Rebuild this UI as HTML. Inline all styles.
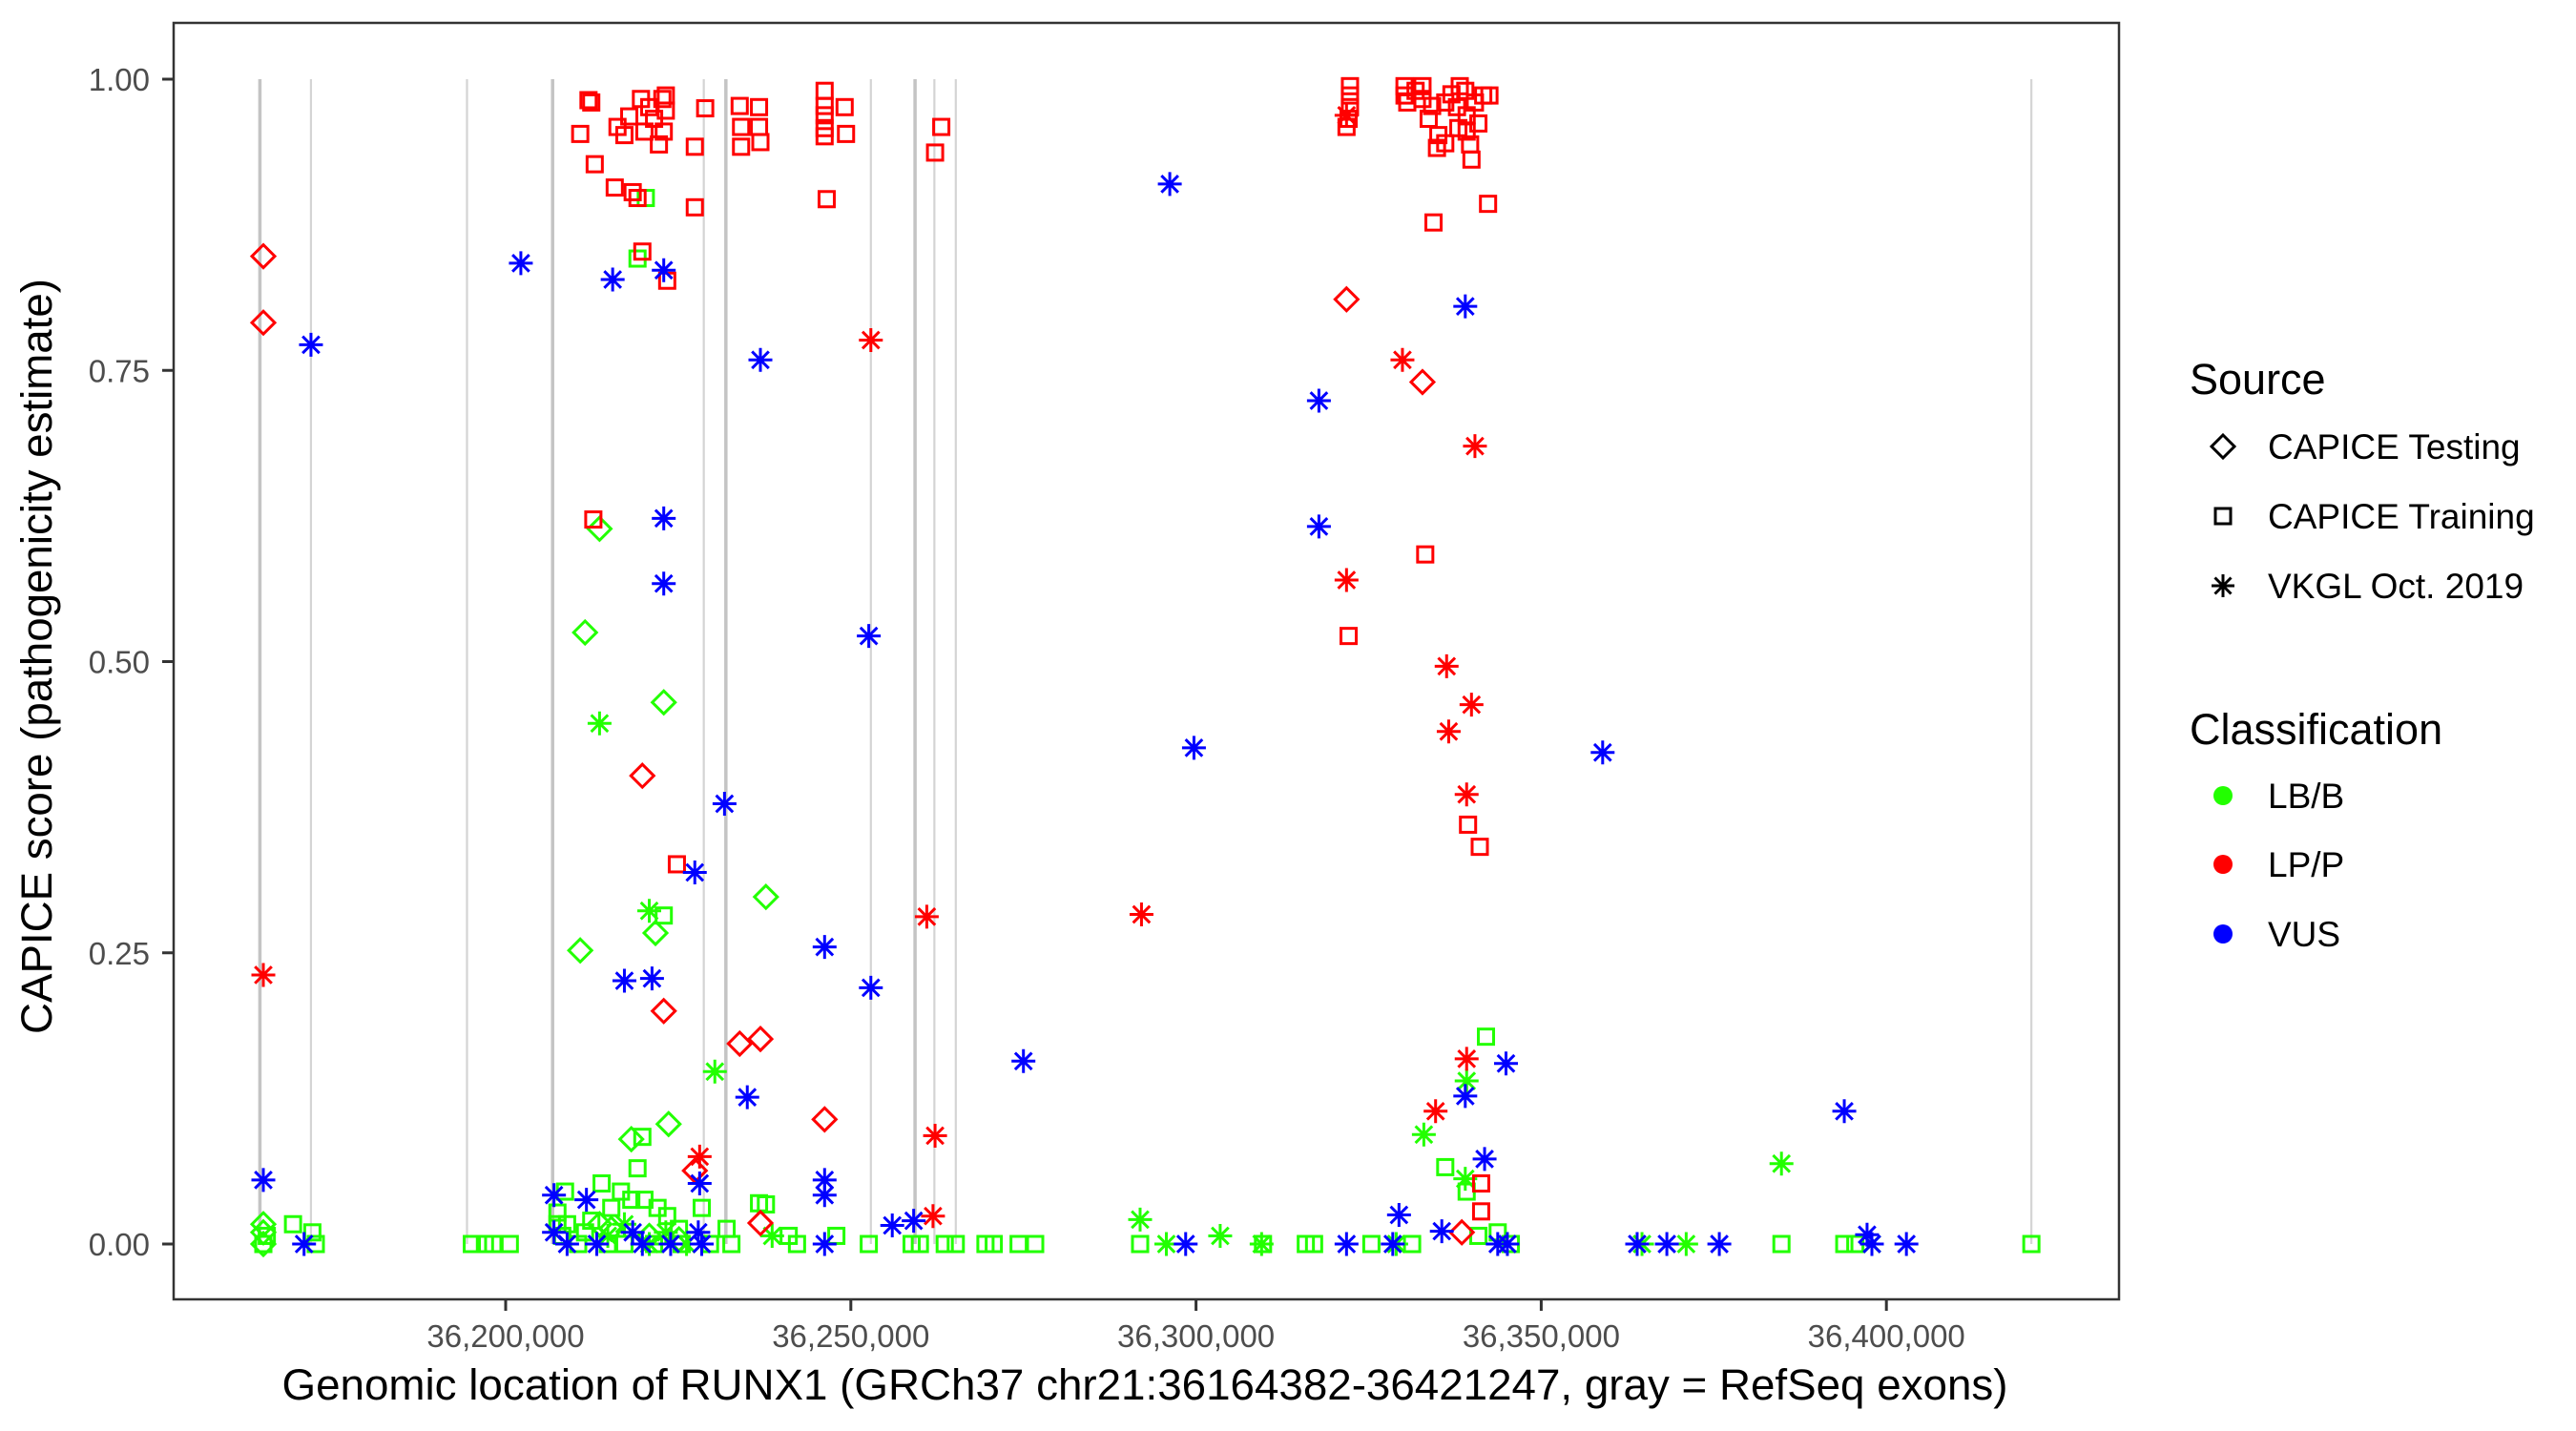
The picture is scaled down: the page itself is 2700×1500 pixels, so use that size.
<!DOCTYPE html>
<html><head><meta charset="utf-8"><title>RUNX1 CAPICE scores</title>
<style>html,body{margin:0;padding:0;background:#fff}svg{display:block}</style></head>
<body>
<svg id="chart" xmlns="http://www.w3.org/2000/svg" width="2700" height="1500" viewBox="0 0 2700 1500" font-family="'Liberation Sans', Arial, sans-serif">
<rect x="0" y="0" width="2700" height="1500" fill="#fff"/>
<g id="exons"></g>
<g id="ticks"></g>
<g id="points"></g>
<rect x="182" y="24" width="2039" height="1338" fill="none" stroke="#333" stroke-width="2.5"/>
<text x="0" y="0" transform="translate(54,688) rotate(-90)" text-anchor="middle" font-size="45" textLength="792" lengthAdjust="spacingAndGlyphs" fill="#000">CAPICE score (pathogenicity estimate)</text>
<text x="1200" y="1467" text-anchor="middle" font-size="45" textLength="1809" lengthAdjust="spacingAndGlyphs" fill="#000">Genomic location of RUNX1 (GRCh37 chr21:36164382-36421247, gray = RefSeq exons)</text>
<g>
<text x="2295" y="413" font-size="45" fill="#000">Source</text>
<g>
<polygon points="2330,456 2342,468 2330,480 2318,468" fill="none" stroke="#000" stroke-width="3"/>
<text x="2377" y="481" font-size="37" fill="#000">CAPICE Testing</text></g>
<g>
<rect x="2322" y="533" width="16" height="16" fill="none" stroke="#000" stroke-width="3"/>
<text x="2377" y="554" font-size="37" fill="#000">CAPICE Training</text></g>
<g>
<path d="M2318,614h24M2330,602v24M2321.5,605.5l17,17M2321.5,622.5l17,-17" stroke="#000" stroke-width="3"/>
<text x="2377" y="627" font-size="37" fill="#000">VKGL Oct. 2019</text></g>
<text x="2295" y="780" font-size="45" fill="#000">Classification</text>
<g><circle cx="2330" cy="834" r="10" fill="#22ff00"/><text x="2377" y="847" font-size="37" fill="#000">LB/B</text></g>
<g><circle cx="2330" cy="906" r="10" fill="#ff0000"/><text x="2377" y="919" font-size="37" fill="#000">LP/P</text></g>
<g><circle cx="2330" cy="979" r="10" fill="#0000ff"/><text x="2377" y="992" font-size="37" fill="#000">VUS</text></g>
</g>
</svg>
<script>
// positions in kb (GRCh37 chr21), scores 0..1
const exonPosKb = [36164.4, 36171.8, 36194.4, 36206.8, 36228.7, 36231.9, 36252.9, 36259.3, 36262.1, 36265.2, 36421.0];
const exonThick = [1,0,0,1,0,1,0,1,0,0,0];
const xTicksKb = [36200, 36250, 36300, 36350, 36400];
const xTickLabels = ["36,200,000","36,250,000","36,300,000","36,350,000","36,400,000"];
const yTicks = [0, 0.25, 0.5, 0.75, 1];
const yTickLabels = ["0.00","0.25","0.50","0.75","1.00"];

// LB/B
const lbbTestPos = [36213.6,36211.5,36222.9,36237.7,36210.8,36221.7,36223.6,36218.2,36164.9,36164.9,36164.9,36215.3,36220.8,36213.6,36225.1];
const lbbTestScore = [.614,.525,.465,.298,.252,.267,.103,.090,.017,.010,0,.013,.007,.017,.004];
const lbbTrainPos = [36220.3,36219.1,36222.9,36219.8,36219.1,36213.9,36169.2,36172.0,36172.5,36164.9,36165.4,36195.1,36197.0,36198.2,36200.6,36207.5,36207.5,36208.2,36208.9,36210.5,36211.5,36215.3,36216.7,36218.2,36220.1,36222.0,36223.4,36225.1,36228.4,36232.0,36236.7,36237.7,36214.8,36217.2,36221.5,36225.5,36229.6,36232.7,36241.0,36242.2,36247.9,36252.6,36258.8,36260.0,36263.6,36265.2,36269.5,36270.7,36274.3,36276.7,36291.9,36309.7,36315.9,36317.1,36325.4,36331.3,36336.1,36339.2,36342.0,36343.7,36340.9,36345.6,36384.8,36393.9,36395.5,36421.0,36212.4,36208.6];
const lbbTrainScore = [.898,.846,.282,.092,.065,.052,.017,.010,0,0,.007,0,0,0,0,.027,.017,.007,.017,0,.010,.031,.045,.038,.038,.031,.024,.013,.031,.013,.035,.034,0,0,0,0,0,0,.007,0,.007,0,0,0,0,0,0,0,0,0,0,0,0,0,0,0,.066,.045,.178,.010,.007,0,0,0,0,0,.020,.045];
const lbbVkglPos = [36213.6,36220.8,36230.3,36333.0,36339.2,36339.0,36384.8,36291.9,36303.5,36295.7,36309.5,36371.0,36397.9,36214.8,36217.2,36220.8,36223.2,36226.2,36238.6,36329.0,36364.6];
const lbbVkglScore = [.447,.286,.148,.094,.140,.056,.069,.021,.007,0,0,0,0,.007,.017,0,.010,0,.007,0,0];

// LP/P
const lppTestPos = [36164.9,36164.9,36321.8,36332.8,36219.8,36222.9,36233.9,36236.9,36246.2,36236.9,36338.5,36227.4];
const lppTestScore = [.848,.791,.811,.740,.402,.200,.172,.176,.107,.018,.010,.063];
const lppTrainPos = [36210.8,36212.0,36212.4,36212.9,36215.8,36216.2,36217.9,36218.4,36219.1,36217.2,36219.6,36220.1,36220.8,36221.5,36222.2,36222.7,36223.2,36223.2,36222.9,36223.4,36227.4,36227.4,36228.9,36233.9,36234.1,36236.7,36236.7,36236.9,36234.1,36246.2,36246.2,36246.2,36246.2,36246.2,36246.5,36249.1,36249.3,36262.2,36263.1,36219.8,36212.7,36224.8,36322.1,36333.2,36339.4,36341.1,36341.3,36341.3,36322.3,36322.3,36322.3,36322.1,36321.8,36330.2,36330.2,36330.6,36331.8,36332.8,36332.8,36333.7,36334.2,36335.1,36334.9,36336.1,36336.1,36337.0,36337.8,36338.0,36338.2,36339.0,36339.2,36339.7,36339.9,36340.4,36340.9,36341.6,36342.5,36334.4,36342.3,36339.2];
const lppTrainScore = [.953,.982,.980,.927,.907,.959,.968,.903,.898,.952,.983,.955,.976,.966,.944,.983,.986,.973,.955,.827,.890,.942,.975,.977,.959,.976,.959,.946,.942,.990,.977,.969,.958,.951,.897,.976,.953,.937,.959,.852,.622,.326,.522,.592,.360,.341,.028,.052,.994,.986,.976,.966,.959,.994,.986,.980,.990,.994,.983,.966,.977,.952,.941,.980,.945,.987,.976,.958,.994,.990,.969,.944,.931,.980,.962,.986,.986,.877,.893,.955];
const lppVkglPos = [36164.9,36252.9,36329.9,36340.4,36321.8,36336.3,36336.6,36339.9,36339.2,36261.0,36292.1,36262.2,36334.7,36339.2,36228.1,36261.9,36321.8];
const lppVkglScore = [.231,.776,.759,.685,.570,.496,.440,.463,.386,.281,.283,.093,.114,.159,.075,.024,.969];

// VUS
const vusVkglPos = [36164.9,36171.8,36202.2,36222.9,36215.5,36222.9,36222.9,36236.9,36231.7,36252.6,36299.7,36296.2,36317.8,36317.8,36339.0,36358.9,36227.4,36217.2,36221.2,36246.2,36252.9,36275.0,36235.0,36339.0,36344.9,36341.8,36207.0,36211.7,36246.2,36246.2,36228.1,36256.0,36259.1,36329.4,36335.6,36393.9,36397.2,36170.8,36207.0,36208.9,36213.2,36218.4,36219.8,36223.9,36227.9,36228.4,36246.2,36298.5,36321.8,36328.5,36343.7,36345.1,36363.9,36368.2,36375.8,36402.9,36397.9];
const vusVkglScore = [.055,.772,.842,.836,.828,.623,.567,.759,.378,.522,.426,.910,.724,.616,.805,.422,.319,.226,.228,.255,.220,.157,.126,.127,.155,.073,.042,.038,.055,.042,.052,.016,.020,.025,.011,.114,.008,0,.010,0,0,.010,0,0,.010,0,0,0,0,0,0,0,0,0,0,0,0];

const X0 = 530, PX_PER_KB = 361.8/50;
function xScale(kb){ return X0 + (kb - 36200) * PX_PER_KB; }
function yScale(s){ return 1304 - 1221 * s; }
const NS = "http://www.w3.org/2000/svg";
function mk(tag, attrs, parent){ const e=document.createElementNS(NS,tag); for(const k in attrs) e.setAttribute(k, attrs[k]); parent.appendChild(e); return e; }

const gEx = document.getElementById('exons');
exonPosKb.forEach((p,i)=>{
  const l = mk('line',{x1:xScale(p),x2:xScale(p),y1:yScale(1),y2:yScale(0),stroke:exonThick[i]?'#c4c4c4':'#d4d4d4','stroke-width':exonThick[i]?3.5:2.2},gEx);
  
  
});

const gT = document.getElementById('ticks');
xTicksKb.forEach((t,i)=>{
  const x = xScale(t);
  const tk = mk('line',{x1:x,x2:x,y1:1362,y2:1374,stroke:'#333','stroke-width':3},gT);
  
  
  const tx = mk('text',{x:x,y:1412,'text-anchor':'middle','font-size':33,fill:'#4d4d4d'},gT);
  tx.textContent = xTickLabels[i];
  
  
});
yTicks.forEach((t,i)=>{
  const y = yScale(t);
  const tk = mk('line',{x1:170,x2:182,y1:y,y2:y,stroke:'#333','stroke-width':3},gT);
  
  
  const tx = mk('text',{x:157,y:y+12,'text-anchor':'end','font-size':33,fill:'#4d4d4d'},gT);
  tx.textContent = yTickLabels[i];
  
  
});

const gP = document.getElementById('points');
function drawPoint(shape, color, kb, s, name){
  const x = xScale(kb), y = yScale(s);
  let el;
  if(shape==='sq'){
    el = mk('rect',{x:x-8,y:y-8,width:16,height:16,fill:'none',stroke:color,'stroke-width':3},gP);
  } else if(shape==='di'){
    el = mk('polygon',{points:`${x},${y-12} ${x+12},${y} ${x},${y+12} ${x-12},${y}`,fill:'none',stroke:color,'stroke-width':3},gP);
  } else {
    el = mk('path',{d:`M${x-12.5},${y}h25M${x},${y-12.5}v25M${x-8.8},${y-8.8}l17.6,17.6M${x-8.8},${y+8.8}l17.6,-17.6`,stroke:color,'stroke-width':3,fill:'none'},gP);
  }
  
  
}
const G='#22ff00', R='#ff0000', B='#0000ff';
lbbTrainPos.forEach((p,i)=>drawPoint('sq',G,p,lbbTrainScore[i],'point-lbb-training'));
lbbTestPos.forEach((p,i)=>drawPoint('di',G,p,lbbTestScore[i],'point-lbb-testing'));
lbbVkglPos.forEach((p,i)=>drawPoint('st',G,p,lbbVkglScore[i],'point-lbb-vkgl'));
lppTrainPos.forEach((p,i)=>drawPoint('sq',R,p,lppTrainScore[i],'point-lpp-training'));
lppTestPos.forEach((p,i)=>drawPoint('di',R,p,lppTestScore[i],'point-lpp-testing'));
lppVkglPos.forEach((p,i)=>drawPoint('st',R,p,lppVkglScore[i],'point-lpp-vkgl'));
vusVkglPos.forEach((p,i)=>drawPoint('st',B,p,vusVkglScore[i],'point-vus-vkgl'));
</script>
</body></html>
